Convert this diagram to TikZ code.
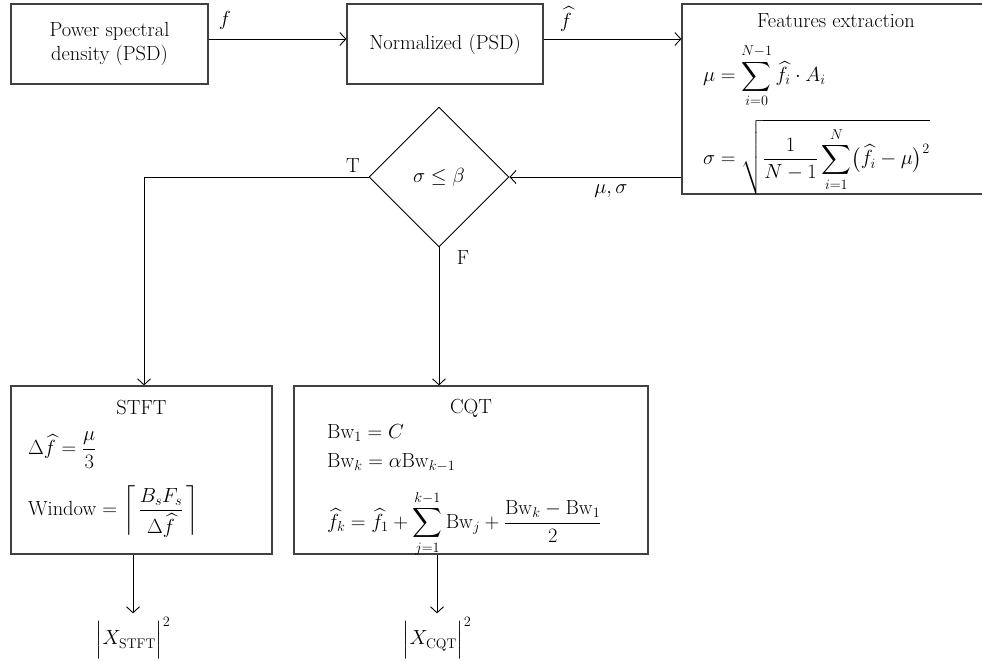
\RequirePackage{fix-cm}
\documentclass[tikz,border=0pt]{standalone}
\usepackage{amsmath}
\usetikzlibrary{shapes.geometric,arrows.meta,calc}
\tikzset{
  base/.style={font=\fontsize{20.5}{25}\selectfont},
  boxnode/.style={draw=black!75, line width=1.2bp, rectangle, inner sep=0pt, align=center},
  txt/.style={inner sep=0bp},
  arr/.style={line width=0.9bp, -{Straight Barb[length=6bp,width=13bp,line width=0.9bp]}},
}
\begin{document}
\begin{tikzpicture}[x=1bp,y=-1bp,every node/.style={base}]
\useasboundingbox (0,0) rectangle (982,661);
\clip (0,0) rectangle (982,661);
\fill[white] (0,0) rectangle (982,661);
% boxes
\node[boxnode, minimum width=197bp, minimum height=80bp] (psd) at (109.5,44) {Power spectral\\density (PSD)};
\node[boxnode, minimum width=196bp, minimum height=80bp] (norm) at (445,44) {Normalized (PSD)};
\node[boxnode, minimum width=313bp, minimum height=190bp] (feat) at (838.5,99) {};
\node[draw=black, line width=0.9bp, diamond, aspect=1, minimum width=140bp, minimum height=140bp, inner sep=0pt] (dia) at (439,177) {$\sigma \le \beta$};
\node[boxnode, minimum width=261bp, minimum height=168bp] (stft) at (141.5,470) {};
\node[boxnode, minimum width=354bp, minimum height=168bp] (cqt) at (471,470) {};
% feature box content
\node[txt] (feattitle) at (836,21) {Features extraction};
\node[txt, anchor=west] (mueq) at (703,76) {$\displaystyle \mu = \sum_{i=0}^{N-1} \widehat{f}_i \cdot A_i$};
\node[txt, anchor=west] (sigeq) at (703,157) {$\displaystyle \sigma = \sqrt{\frac{1}{N-1}\sum_{i=1}^{N}\bigl(\widehat{f}_i-\mu\bigr)^{2}}$};
% STFT content
\node[txt] (stfttitle) at (141.5,408) {STFT};
\node[txt, anchor=west] (dfeq) at (28,450) {$\displaystyle \Delta\widehat{f} = \frac{\mu}{3}$};
\node[txt, anchor=west] (wineq) at (28,512) {Window = $\displaystyle \left\lceil\, \frac{B_sF_s}{\Delta\widehat{f}} \,\right\rceil$};
% CQT content
\node[txt] (cqttitle) at (471,408) {CQT};
\node[txt, anchor=west] (bw1eq) at (327,433) {$\mathrm{Bw}_1 = C$};
\node[txt, anchor=west] (bwkeq) at (327,463) {$\mathrm{Bw}_k = \alpha\mathrm{Bw}_{k-1}$};
\node[txt, anchor=west] (fkeq) at (327,524) {$\displaystyle \widehat{f}_k = \widehat{f}_1 + \sum_{j=1}^{k-1}\mathrm{Bw}_j + \frac{\mathrm{Bw}_k-\mathrm{Bw}_1}{2}$};
% outputs
\node[txt] (xstft) at (133,638) {$\Bigl|X_{\text{\fontsize{14}{15}\selectfont STFT}}\Bigr|^{2}$};
\node[txt] (xcqt) at (437,638) {$\Bigl|X_{\text{\fontsize{14}{15}\selectfont CQT}}\Bigr|^{2}$};
% labels
\node[txt] (flab) at (225,20) {$f$};
\node[txt] (fhatlab) at (566,19) {$\widehat{f}$};
\node[txt] (muslab) at (611,191) {$\mu, \sigma$};
\node[txt] (tlab) at (353,166) {T};
\node[txt] (flab2) at (463,258) {F};
\coordinate (tcorner) at (144,177);
% connectors
\draw[arr] ([yshift=5bp]psd.east) -- ([yshift=5bp]norm.west);
\draw[arr] ([yshift=5bp]norm.east) -- ([yshift=5bp]norm.east -| feat.west);
\draw[arr] (dia.east -| feat.west) -- (dia.east);
\draw[arr] (dia.west) -- (tcorner) -- (tcorner |- stft.north);
\draw[arr] (dia.south) -- (dia.south |- cqt.north);
\draw[arr] (xstft |- stft.south) -- ([yshift=4bp]xstft.north);
\draw[arr] (xcqt |- cqt.south) -- ([yshift=4bp]xcqt.north);
\end{tikzpicture}
\end{document}
